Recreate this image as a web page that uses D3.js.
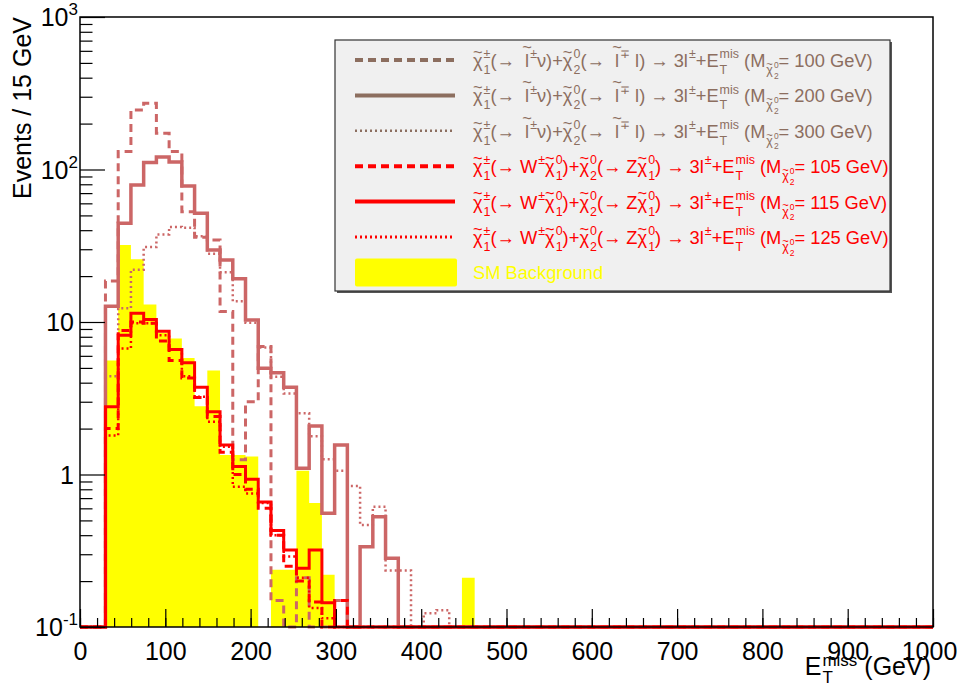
<!DOCTYPE html>
<html>
<head>
<meta charset="utf-8">
<script src="https://cdn.jsdelivr.net/npm/d3@7"></script>
<style>
  body { margin: 0; background: #fff; }
  text { font-family: "Liberation Sans", Arial, Helvetica, sans-serif; white-space: pre; }
</style>
</head>
<body>
<svg width="957" height="688"></svg>
<script>
// histogram binning: 67 bins over 0-1000 GeV, series below start at bin 2 (~30 GeV)
var nBins = 67, xMin = 0, xMax = 1000, firstBin = 2;

// slepton mediated signals (M chi2 = 100, 200, 300 GeV)
var sig100 = [18.6, 131, 246, 272, 173, 131, 52.9, 36, 34.5, 11.7, 1.25, 3.0, 6.9, 0.149, 0, 0.21, 0, 0, 0.149];
var sig200 = [12.7, 44.4, 79, 111, 121, 112, 78, 51.6, 29.7, 25.5, 19.2, 10.3, 4.97, 4.65, 3.73, 1.1, 2.08, 0.557, 1.56, 0, 0.336, 0.529, 0.282];
var sig300 = [4.4, 12.3, 22, 31, 37.5, 42, 41.5, 36.5, 28, 21.2, 13.7, 9.9, 6.8, 4.38, 3.4, 2.52, 1.78, 1.26, 1.06, 0.84, 0.466, 0.615, 0.235, 0.235, 0, 0.123, 0.129];
// W/Z mediated signals (M chi2 = 105, 115, 125 GeV)
var sig105 = [2.0, 8.8, 10.0, 9.8, 7.5, 5.6, 4.3, 3.2, 2.4, 1.4, 1.0, 0.8, 0.6, 0.4, 0.25, 0.2, 0.146, 0, 0.149];
var sig115 = [2.78, 8.2, 11.4, 10.4, 8.7, 6.6, 5.4, 3.73, 2.58, 1.56, 1.13, 0.93, 0.66, 0.43, 0.32, 0.243, 0.32, 0.144];
var sig125 = [1.8, 6.7, 9.8, 9.8, 8.2, 6.6, 4.4, 3.24, 2.22, 1.52, 0.83, 0.75, 0.65, 0.40, 0.29, 0.21, 0.133, 0.114];
// SM background
var smBkg = [5.6, 32, 25.8, 13, 8.5, 7.8, 5.8, 2.8, 4.8, 1.34, 1.34, 1.31, 0, 0.237, 0.237, 1.06, 0.65, 0.22, 0, 0, 0, 0, 0, 0, 0, 0, 0, 0, 0.21];

var xTicks = [0, 100, 200, 300, 400, 500, 600, 700, 800, 900, 1000];
var yTicks = [0.1, 1, 10, 100, 1000];
var yTickLabels = [["10", "-1"], ["1", ""], ["10", ""], ["10", "2"], ["10", "3"]];

var legendRows = [
  { text: "100 GeV", kind: "slep" },
  { text: "200 GeV", kind: "slep" },
  { text: "300 GeV", kind: "slep" },
  { text: "105 GeV", kind: "wz" },
  { text: "115 GeV", kind: "wz" },
  { text: "125 GeV", kind: "wz" }
];

var pink = "#cc6666", red = "#ff0000", brown = "#8c6e5f", yellow = "#ffff00";

var svg = d3.select("svg");
// note: "top" is taken by window.top, so the frame edges get their own names
var fL = 80, fR = 933, fT = 17, fB = 627;

var x = d3.scaleLinear().domain([xMin, xMax]).range([fL, fR]);
var y = d3.scaleLog().domain([0.1, 1000]).range([fB, fT]);
var bw = (xMax - xMin) / nBins;

function valueAt(vals, i) {
  var j = i - firstBin;
  return (j >= 0 && j < vals.length) ? vals[j] : 0;
}

// step outline the way ROOT draws HIST, empty bins sit on the frame bottom
function histPoints(vals) {
  var pts = [];
  for (var i = 0; i < nBins; i++) {
    pts.push([xMin + i * bw, Math.min(Math.max(valueAt(vals, i), 0.1), 1000)]);
  }
  pts.push([xMax, pts[nBins - 1][1]]);
  return pts;
}

var line = d3.line()
  .x(function(d) { return x(d[0]); })
  .y(function(d) { return y(d[1]); })
  .curve(d3.curveStepAfter);

// SM background, filled step area
var area = d3.area()
  .x(function(d) { return x(d[0]); })
  .y0(fB)
  .y1(function(d) { return y(d[1]); })
  .curve(d3.curveStepAfter);

svg.append("path")
  .attr("d", area(histPoints(smBkg)))
  .attr("fill", yellow);

var series = [
  { vals: sig300, color: pink, dash: "2,3", w: 2.5 },
  { vals: sig100, color: pink, dash: "8,5", w: 3 },
  { vals: sig200, color: pink, dash: null, w: 3.5 },
  { vals: sig125, color: red, dash: "2,3", w: 2.5 },
  { vals: sig105, color: red, dash: "8,5", w: 3 },
  { vals: sig115, color: red, dash: null, w: 3 }
];

svg.append("g").selectAll("path").data(series).enter().append("path")
  .attr("d", function(d) { return line(histPoints(d.vals)); })
  .attr("fill", "none")
  .attr("stroke", function(d) { return d.color; })
  .attr("stroke-width", function(d) { return d.w; })
  .attr("stroke-dasharray", function(d) { return d.dash; });

// frame
svg.append("rect")
  .attr("x", fL).attr("y", fT)
  .attr("width", fR - fL).attr("height", fB - fT)
  .attr("fill", "none").attr("stroke", "#000").attr("stroke-width", 1.5);

// x axis, ticks point into the frame
var xAxis = svg.append("g").attr("transform", "translate(0," + fB + ")")
  .call(d3.axisBottom(x).tickValues(xTicks).tickSize(-18).tickPadding(0).tickFormat(d3.format("d")));
xAxis.select(".domain").remove();
xAxis.selectAll("text").attr("y", 33).attr("dy", null).style("font-size", "25px").attr("fill", "#000")
  .attr("x", function(d) { return d === 1000 ? -4 : 0; });
var xMinor = svg.append("g").attr("transform", "translate(0," + fB + ")")
  .call(d3.axisBottom(x).tickValues(d3.range(0, 1001, 20)).tickSize(-9).tickFormat(""));
xMinor.select(".domain").remove();

// y axis (log)
var yMinorVals = [];
[0.1, 1, 10, 100].forEach(function(d) { for (var k = 2; k <= 9; k++) yMinorVals.push(d * k); });
var yAxis = svg.append("g").attr("transform", "translate(" + fL + ",0)")
  .call(d3.axisLeft(y).tickValues(yTicks).tickSize(-25).tickFormat(""));
yAxis.select(".domain").remove();
var yMinor = svg.append("g").attr("transform", "translate(" + fL + ",0)")
  .call(d3.axisLeft(y).tickValues(yMinorVals).tickSize(-12.5).tickFormat(""));
yMinor.select(".domain").remove();
svg.selectAll(".tick line").attr("stroke", "#000").attr("stroke-width", 1.2);

yTicks.forEach(function(d, i) {
  var lab = yTickLabels[i];
  var t = svg.append("text")
    .attr("x", lab[1] ? 78 : 74).attr("y", y(d) + 9)
    .attr("text-anchor", "end").style("font-size", "25px");
  t.append("tspan").text(lab[0]);
  if (lab[1]) t.append("tspan").attr("dy", -11).style("font-size", "17px").text(lab[1]);
});

// axis titles
svg.append("text")
  .attr("transform", "translate(31," + fT + ") rotate(-90)")
  .attr("text-anchor", "end").style("font-size", "25px")
  .text("Events / 15 GeV");

// little TLatex-like layout: base (optionally with tilde), then stacked sub/sup
function latex(parent, x0, y0, items, size, color, supUp, subDown) {
  var up = supUp || 0.48, down = subDown || 0.38;
  var g = parent.append("g").attr("fill", color);
  function put(it, px, py, s) {
    if (typeof it === "string") {
      var t = g.append("text").attr("x", px).attr("y", py).style("font-size", s + "px").text(it);
      return t.node().getComputedTextLength();
    }
    var w = put(it.b, px, py, s);
    if (it.tilde) {
      g.append("text").attr("x", px + w / 2).attr("y", py - s * (it.tilde === "hi" ? 0.78 : 0.5))
        .attr("text-anchor", "middle").style("font-size", (s * 0.9) + "px").text("~");
    }
    var ws = 0, wp = 0;
    if (it.sub != null) ws = put(it.sub, px + w + 1, py + s * down, s * 0.68);
    if (it.sup != null) wp = put(it.sup, px + w + 1, py - s * up, s * 0.68);
    return w + 1 + Math.max(ws, wp);
  }
  var cx = x0;
  items.forEach(function(it) { cx += put(it, cx, y0, size); });
  return cx - x0;
}

var xt = svg.append("g");
var xtw = latex(xt, 0, 0, [{ b: "E", sub: "T", sup: "miss" }, " (GeV)"], 25, "#000", 0.38, 0.3);
xt.attr("transform", "translate(" + (931 - xtw) + ",675)");

// legend
var lg = svg.append("g");
lg.append("rect").attr("x", 337).attr("y", 42).attr("width", 555).attr("height", 251).attr("fill", "#555");
lg.append("rect").attr("x", 335).attr("y", 40).attr("width", 555).attr("height", 251)
  .attr("fill", "#f0f0f0").attr("stroke", "#333").attr("stroke-width", 1.2);

function chi(sub, sup) { return { b: "\u03c7", tilde: "lo", sub: sub, sup: sup }; }

var legendStyles = [
  { color: brown, dash: "8,5", w: 4 },
  { color: brown, dash: null, w: 4 },
  { color: brown, dash: "2,3", w: 2.5 },
  { color: red, dash: "8,5", w: 4 },
  { color: red, dash: null, w: 4 },
  { color: red, dash: "2,3", w: 3 }
];

legendRows.forEach(function(r, i) {
  var cy = 60 + i * 35.4;
  var st = legendStyles[i];
  lg.append("line").attr("x1", 355).attr("x2", 455).attr("y1", cy).attr("y2", cy)
    .attr("stroke", st.color).attr("stroke-width", st.w).attr("stroke-dasharray", st.dash);
  var items;
  if (r.kind === "slep") {
    items = [chi("1", "\u00b1"), "(\u2192  ", { b: "l", tilde: "hi", sup: "\u00b1" }, "\u03bd)+", chi("2", "0"),
      "(\u2192  ", { b: "l", tilde: "hi", sup: "\u2213" }, " l) \u2192 3", { b: "l", sup: "\u00b1" }, "+",
      { b: "E", sub: "T", sup: "mis" }, " (", { b: "M", sub: chi("2", "0") }, "= " + r.text + ")"];
  } else {
    items = [chi("1", "\u00b1"), "(\u2192 ", { b: "W", sup: "\u00b1" }, chi("1", "0"), ")+", chi("2", "0"),
      "(\u2192 Z", chi("1", "0"), ") \u2192 3", { b: "l", sup: "\u00b1" }, "+",
      { b: "E", sub: "T", sup: "mis" }, " (", { b: "M", sub: chi("2", "0") }, "= " + r.text + ")"];
  }
  latex(lg, 473, cy + 7, items, 18.3, st.color);
});

// background entry
var cy7 = 60 + 6 * 35.4;
lg.append("rect").attr("x", 355).attr("y", cy7 - 14).attr("width", 102).attr("height", 28)
  .attr("rx", 2).attr("fill", yellow);
lg.append("text").attr("x", 473).attr("y", cy7 + 7).style("font-size", "18.3px")
  .attr("fill", yellow).text("SM Background");
</script>
</body>
</html>
